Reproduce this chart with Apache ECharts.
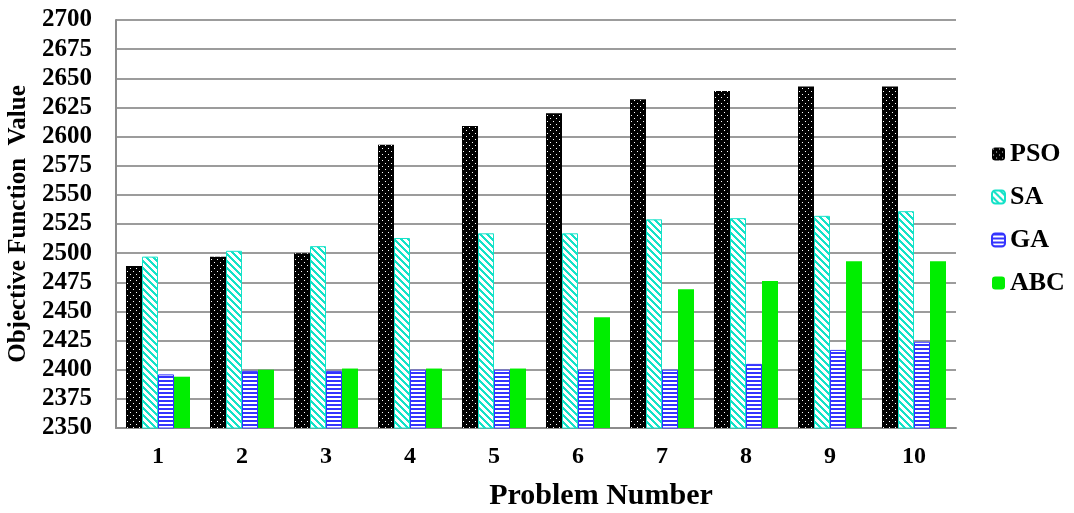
<!DOCTYPE html>
<html>
<head>
<meta charset="utf-8">
<script src="https://cdn.jsdelivr.net/npm/echarts@6/dist/echarts.min.js"></script>
<style>
  html, body { margin: 0; padding: 0; background: #fff; }
  #chart { width: 1074px; height: 513px; }
</style>
</head>
<body>
<div id="chart"></div>
<script>
// Problem numbers and objective values for each algorithm
const problems = ['1', '2', '3', '4', '5', '6', '7', '8', '9', '10'];
const psoValues = [2489, 2497, 2500, 2593, 2609, 2620, 2632, 2639, 2643, 2643];
const saValues  = [2497, 2502, 2506, 2513, 2517, 2517, 2529, 2530, 2532, 2536];
const gaValues  = [2396, 2399, 2399, 2400, 2400, 2400, 2400, 2405, 2417, 2424];
const abcValues = [2394, 2400, 2401, 2401, 2401, 2445, 2469, 2476, 2493, 2493];
const yTicks = { min: 2350, max: 2700, step: 25 };

const FONT = '"Liberation Serif", "Times New Roman", serif';

// Small tile canvases used as bar fill patterns
function makeTile(w, h, painter) {
  const c = document.createElement('canvas');
  c.width = w; c.height = h;
  const ctx = c.getContext('2d');
  painter(ctx, w, h);
  return c;
}

// black with white dots
const dotTile = makeTile(6, 6, (ctx, w, h) => {
  ctx.fillStyle = '#000';
  ctx.fillRect(0, 0, w, h);
  ctx.fillStyle = '#fff';
  ctx.fillRect(1, 1, 1, 1);
  ctx.fillRect(4, 4, 1, 1);
});

// white with turquoise "\" stripes
const CYAN = '#14e2c8';
const diagTile = makeTile(7, 7, (ctx, w, h) => {
  ctx.fillStyle = '#fff';
  ctx.fillRect(0, 0, w, h);
  ctx.fillStyle = CYAN;
  for (let y = 0; y < h; y++) {
    for (let x = 0; x < w; x++) {
      if (((x - y) % 7 + 7) % 7 < 3) ctx.fillRect(x, y, 1, 1);
    }
  }
});

// blue horizontal stripes
const BLUE = '#3434ff';
const hTile = makeTile(4, 4, (ctx, w, h) => {
  ctx.fillStyle = '#fff';
  ctx.fillRect(0, 0, w, h);
  ctx.fillStyle = BLUE;
  ctx.fillRect(0, 0, w, 2);
});

const GREEN = '#00ee00';

function barSeries(name, data, color, borderColor) {
  return {
    name: name,
    type: 'bar',
    data: data,
    barWidth: 16,
    barGap: '0%',
    itemStyle: {
      color: color,
      borderColor: borderColor,
      borderWidth: borderColor ? 1 : 0
    }
  };
}

const chart = echarts.init(document.getElementById('chart'), null, { renderer: 'canvas' });
chart.setOption({
  animation: false,
  backgroundColor: '#fff',
  grid: { left: 116, right: 118, top: 20, bottom: 85, containLabel: false, outerBoundsMode: 'none' },
  legend: {
    orient: 'vertical',
    left: 986,
    top: 136,
    itemWidth: 13,
    itemHeight: 13,
    itemGap: 17,
    textStyle: { fontFamily: FONT, fontWeight: 'bold', fontSize: 26, color: '#000' },
    data: ['PSO', 'SA', 'GA', 'ABC']
  },
  xAxis: {
    type: 'category',
    data: problems,
    name: 'Problem Number',
    nameLocation: 'middle',
    nameGap: 53,
    nameTextStyle: {
      fontFamily: FONT, fontWeight: 'bold', fontSize: 30, color: '#000',
      padding: [0, 0, 0, 130]
    },
    axisLine: { lineStyle: { color: '#8c8c8c', width: 2 } },
    axisTick: { show: false },
    axisLabel: { fontFamily: FONT, fontWeight: 'bold', fontSize: 24, color: '#000', margin: 17 }
  },
  yAxis: {
    type: 'value',
    min: yTicks.min,
    max: yTicks.max,
    interval: yTicks.step,
    name: 'Objective Function  Value',
    nameLocation: 'middle',
    nameGap: 77,
    nameTextStyle: { fontFamily: FONT, fontWeight: 'bold', fontSize: 25, color: '#000' },
    axisLine: { show: true, lineStyle: { color: '#8c8c8c', width: 2 } },
    axisTick: { show: false },
    axisLabel: {
      fontFamily: FONT, fontWeight: 'bold', fontSize: 25, color: '#000', margin: 24,
      formatter: v => String(v)
    },
    splitLine: { show: true, lineStyle: { color: '#9c9c9c', width: 2 } }
  },
  series: [
    barSeries('PSO', psoValues, { image: dotTile, repeat: 'repeat' }, null),
    barSeries('SA', saValues, { image: diagTile, repeat: 'repeat' }, CYAN),
    barSeries('GA', gaValues, { image: hTile, repeat: 'repeat' }, BLUE),
    barSeries('ABC', abcValues, GREEN, null)
  ]
});
</script>
</body>
</html>
